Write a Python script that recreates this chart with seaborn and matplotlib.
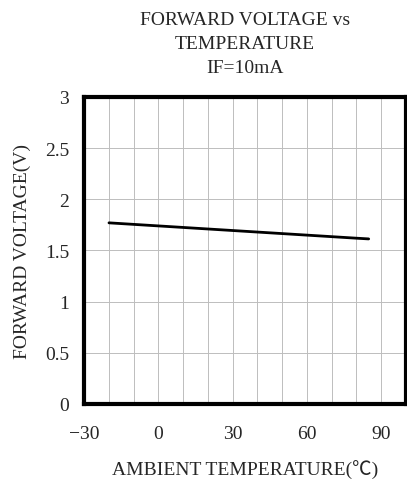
import matplotlib
matplotlib.use('Agg')
import matplotlib.pyplot as plt
import seaborn as sns
import pandas as pd
import numpy as np

# values
temperature = [-20, -10, 0, 10, 20, 30, 40, 50, 60, 70, 80, 85]
voltage = [1.77, 1.755, 1.74, 1.725, 1.71, 1.695, 1.68, 1.665, 1.65, 1.635, 1.62, 1.613]
x_ticks = [-30, 0, 30, 60, 90]
y_ticks = [0, 0.5, 1, 1.5, 2, 2.5, 3]
y_labels = ['0', '0.5', '1', '1.5', '2', '2.5', '3']

df = pd.DataFrame({'temp': temperature, 'vf': voltage})

sns.set_style('white')
plt.rcParams['font.family'] = ['Liberation Serif', 'Noto Sans CJK SC', 'DejaVu Sans']

fig = plt.figure(figsize=(4.07, 4.85), dpi=100)
ax = fig.add_axes([0.207, 0.165, 0.79, 0.633])

sns.lineplot(data=df, x='temp', y='vf', color='black', linewidth=2, ax=ax)

ax.set_xlim(-30, 100)
ax.set_ylim(0, 3)
ax.set_xticks(np.arange(-30, 101, 10), minor=True)
ax.set_xticks(x_ticks)
ax.set_yticks(y_ticks)
ax.set_yticklabels(y_labels)
ax.grid(True, which='both', axis='x', color='#bdbdbd', linewidth=0.7)
ax.grid(True, which='major', axis='y', color='#bdbdbd', linewidth=0.7)
ax.tick_params(which='both', length=0, labelsize=14)
ax.tick_params(axis='x', pad=15)
ax.tick_params(axis='y', pad=11)
for s in ax.spines.values():
    s.set_linewidth(3)
    s.set_color('black')

ax.set_xlabel('AMBIENT TEMPERATURE(℃)', fontsize=14, labelpad=13)
ax.set_ylabel('FORWARD VOLTAGE(V)', fontsize=14, labelpad=10)
ax.set_title('FORWARD VOLTAGE vs\nTEMPERATURE\nIF=10mA', fontsize=14, pad=18, linespacing=1.55)

fig.savefig('out.png', dpi=100)
